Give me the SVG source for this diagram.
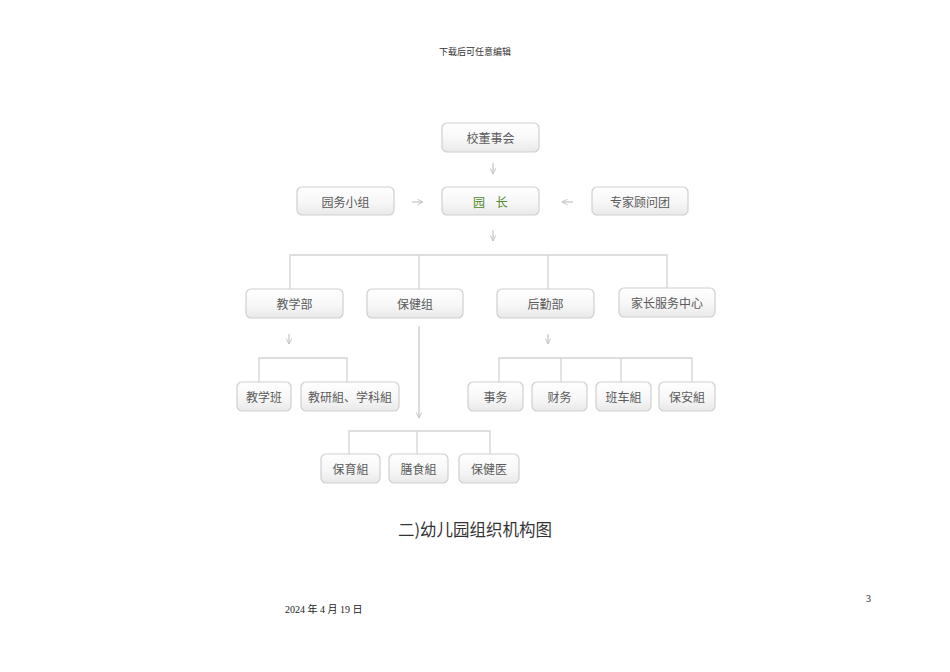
<svg xmlns="http://www.w3.org/2000/svg" width="950" height="672" viewBox="0 0 950 672">
<defs>
<linearGradient id="g" x1="0" y1="0" x2="0" y2="1">
<stop offset="0" stop-color="#ffffff"/>
<stop offset="0.55" stop-color="#f7f7f7"/>
<stop offset="1" stop-color="#e9e9e9"/>
</linearGradient>
<marker id="ah" viewBox="0 0 10 10" refX="9" refY="5" markerWidth="7" markerHeight="7" orient="auto" markerUnits="userSpaceOnUse">
<path d="M1,1 L9,5 L1,9" fill="none" stroke="#c4c4c4" stroke-width="1.4"/>
</marker>
</defs>
<style>
.n rect{fill:url(#g);stroke:#cfcfcf;stroke-width:1.2}
.n text{font-family:"Noto Sans CJK SC","Noto Sans CJK JP",sans-serif;font-size:12px;fill:#5a5a5a;text-anchor:middle;dominant-baseline:central}
.c line,.c path{stroke:#d3d3d3;stroke-width:1.3;fill:none}
.a line{stroke:#c4c4c4;stroke-width:1.2;marker-end:url(#ah)}
</style>
<rect width="950" height="672" fill="#fff"/>
<text x="475" y="55" font-family="'Liberation Serif','Noto Sans CJK SC',serif" font-size="9" fill="#333" text-anchor="middle">下载后可任意编辑</text>
<g class="c" id="connectors">
<path d="M290,289 V255 H667 V288"/>
<line x1="419" y1="255" x2="419" y2="289"/>
<line x1="548" y1="255" x2="548" y2="289"/>
<path d="M259,382 V358 H347 V382"/>
<path d="M499,382 V358 H692 V382"/>
<line x1="561" y1="358" x2="561" y2="382"/>
<line x1="621" y1="358" x2="621" y2="382"/>
<path d="M349,454 V431 H490 V454"/>
<line x1="417" y1="431" x2="417" y2="454"/>
<g class="a">
<line x1="493" y1="163" x2="493" y2="174"/>
<line x1="493" y1="230" x2="493" y2="241"/>
<line x1="412" y1="202" x2="423" y2="202"/>
<line x1="573" y1="202" x2="562" y2="202"/>
<line x1="289" y1="334" x2="289" y2="344"/>
<line x1="548" y1="334" x2="548" y2="344"/>
<line x1="419" y1="326" x2="419" y2="418"/>
</g>
</g>
<g class="n" id="n-xiaodong"><rect x="442" y="123" width="97" height="29" rx="5"/><text x="490.5" y="137.5">校董事会</text></g>
<g class="n" id="n-yuanwu"><rect x="297" y="187" width="97" height="28" rx="5"/><text x="345.5" y="201">园务小组</text></g>
<g class="n" id="n-yuanzhang"><rect x="442" y="187" width="97" height="28" rx="5"/><text x="490.5" y="201" style="fill:#4d8a2a" xml:space="preserve">园    长</text></g>
<g class="n" id="n-zhuanjia"><rect x="592" y="187" width="96" height="28" rx="5"/><text x="640" y="201">专家顾问团</text></g>
<g class="n" id="n-jiaoxue"><rect x="246" y="289" width="97" height="29" rx="5"/><text x="294.5" y="303.5">教学部</text></g>
<g class="n" id="n-baojianzu"><rect x="367" y="289" width="96" height="29" rx="5"/><text x="415" y="303.5">保健组</text></g>
<g class="n" id="n-houqin"><rect x="497" y="289" width="97" height="29" rx="5"/><text x="545.5" y="303.5">后勤部</text></g>
<g class="n" id="n-jiazhang"><rect x="619" y="288" width="96" height="29" rx="5"/><text x="667" y="302.5">家长服务中心</text></g>
<g class="n" id="n-jiaoxueban"><rect x="237" y="382" width="54" height="29" rx="5"/><text x="264" y="396.5">教学班</text></g>
<g class="n" id="n-jiaoyan"><rect x="301" y="382" width="98" height="29" rx="5"/><text x="350" y="396.5">教研組、学科組</text></g>
<g class="n" id="n-shiwu"><rect x="468" y="382" width="55" height="29" rx="5"/><text x="495.5" y="396.5">事务</text></g>
<g class="n" id="n-caiwu"><rect x="532" y="382" width="55" height="29" rx="5"/><text x="559.5" y="396.5">财务</text></g>
<g class="n" id="n-banche"><rect x="596" y="382" width="55" height="29" rx="5"/><text x="623.5" y="396.5">班车組</text></g>
<g class="n" id="n-baoan"><rect x="659" y="382" width="56" height="29" rx="5"/><text x="687" y="396.5">保安組</text></g>
<g class="n" id="n-baoyu"><rect x="321" y="454" width="59" height="29" rx="5"/><text x="350.5" y="468.5">保育組</text></g>
<g class="n" id="n-shanshi"><rect x="389" y="454" width="59" height="29" rx="5"/><text x="418.5" y="468.5">膳食組</text></g>
<g class="n" id="n-baojianyi"><rect x="459" y="454" width="60" height="29" rx="5"/><text x="489" y="468.5">保健医</text></g>
<text x="475" y="536" font-family="'Noto Sans CJK SC',sans-serif" font-size="16.5" fill="#333" text-anchor="middle">二)幼儿园组织机构图</text>
<text x="285" y="613" font-family="'Liberation Serif','Noto Sans CJK SC',serif" font-size="10" fill="#222">2024 年 4 月 19 日</text>
<text x="866" y="602" font-family="'Liberation Serif',serif" font-size="10" fill="#222">3</text>
</svg>
